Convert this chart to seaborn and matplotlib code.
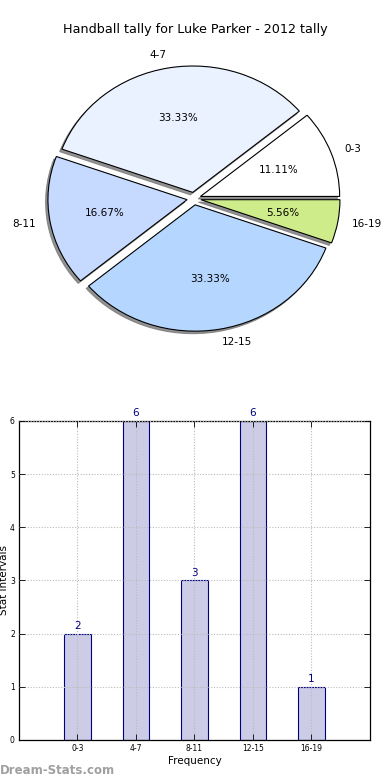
import matplotlib
matplotlib.use("Agg")
import matplotlib.pyplot as plt
import seaborn as sns

intervals = ["0-3", "4-7", "8-11", "12-15", "16-19"]
counts = [2, 6, 3, 6, 1]
pie_colors = ["#FFFFFF", "#EAF2FF", "#C6D9FF", "#B5D6FF", "#CFEC8A"]
explode = [0.05, 0.05, 0.05, 0.05, 0.05]

sns.set_style("white")
plt.rcParams["font.family"] = ["DejaVu Sans"]
plt.rcParams["text.color"] = "black"
plt.rcParams["axes.labelcolor"] = "black"
plt.rcParams["xtick.color"] = "black"
plt.rcParams["ytick.color"] = "black"

fig = plt.figure(figsize=(3.9, 7.8), dpi=100)

# pie on top
ax1 = fig.add_axes([0.0513, 0.5429, 0.892, 0.405])
wedges, texts, autotexts = ax1.pie(
    counts, labels=intervals, colors=pie_colors, explode=explode,
    autopct="%.2f%%",
    shadow={"ox": -0.012, "oy": -0.014, "facecolor": "#777777",
            "edgecolor": "#777777", "alpha": 0.8},
    startangle=0,
    wedgeprops={"edgecolor": "black", "linewidth": 0.8},
    textprops={"fontsize": 7.5, "color": "black"})
ax1.set_aspect("auto")
ax1.set_xlim(-1.25, 1.25)
ax1.set_ylim(-1.25, 1.25)
ax1.axis("off")
fig.text(0.5, 1 - 30 / 780, "Handball tally for Luke Parker - 2012 tally",
         ha="center", va="center", fontsize=9.2, color="black")

# bar chart below
ax2 = fig.add_axes([0.0487, 0.0513, 0.9, 0.409])
sns.barplot(x=intervals, y=counts, ax=ax2, color="#CCCCE6", saturation=1,
            width=0.45, edgecolor="navy", linewidth=0.8)
ax2.set_xlim(-1, 5)
ax2.set_ylim(0, 6)
ax2.set_yticks(range(0, 7))
ax2.grid(True, linestyle=(0, (1, 1.5)), color="#BBBBBB", linewidth=0.8)
ax2.set_axisbelow(False)
for s in ax2.spines.values():
    s.set_color("black")
    s.set_linewidth(0.9)
ax2.tick_params(direction="in", length=4, width=0.6, labelsize=5.5,
                top=True, right=True, left=True, bottom=True, pad=3)
for i, v in enumerate(counts):
    ax2.text(i, v + 0.05, str(v), ha="center", va="bottom",
             color="navy", fontsize=7.5)
ax2.set_xlabel("Frequency", fontsize=7.5, labelpad=2)
ax2.set_ylabel("Stat Intervals", fontsize=7.5, labelpad=1)

fig.text(0.0, 1 - 771 / 780, "Dream-Stats.com", ha="left", va="center",
         fontsize=8.5, color="#A0A0A0", fontweight="bold")

fig.savefig("out.png", dpi=100)
